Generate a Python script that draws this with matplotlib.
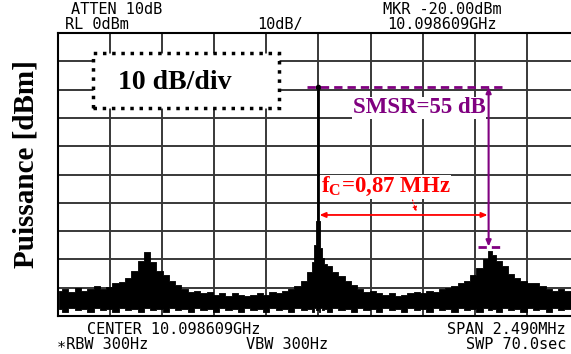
import matplotlib
matplotlib.use("Agg")
import matplotlib.pyplot as plt
from matplotlib.patches import Rectangle

plt.rcParams['mathtext.fontset'] = 'custom'
plt.rcParams['mathtext.rm'] = 'Liberation Serif'
plt.rcParams['mathtext.bf'] = 'Liberation Serif:bold'

# frequency offset from centre (MHz) and trace envelope (dBm)
freq = [-1.24, -1.21, -1.18, -1.15, -1.12, -1.09, -1.06, -1.03, -1.00, -0.97,
        -0.94, -0.91, -0.88, -0.85, -0.82, -0.79, -0.76, -0.73, -0.70, -0.67,
        -0.64, -0.61, -0.58, -0.55, -0.52, -0.49, -0.46, -0.43, -0.40, -0.37,
        -0.34, -0.31, -0.28, -0.25, -0.22, -0.19, -0.16, -0.13, -0.10, -0.07,
        -0.04, -0.025, -0.015, -0.005, 0.0, 0.005, 0.012, 0.02, 0.035, 0.05,
        0.08, 0.11, 0.14, 0.17, 0.20, 0.23, 0.26, 0.29, 0.32, 0.35,
        0.38, 0.41, 0.44, 0.47, 0.50, 0.53, 0.56, 0.59, 0.62, 0.65,
        0.68, 0.71, 0.74, 0.77, 0.80, 0.82, 0.84, 0.86, 0.89, 0.92,
        0.95, 0.98, 1.01, 1.04, 1.07, 1.10, 1.13, 1.16, 1.19, 1.22,
        1.25]
upper = [-91.0, -90.5, -91.5, -90.0, -91.0, -90.5, -89.5, -90.5, -89.8, -88.5,
         -88.0, -86.5, -84.0, -80.5, -77.5, -81.0, -84.0, -85.5, -87.5, -89.0,
         -90.5, -91.5, -91.0, -92.0, -91.5, -92.5, -92.0, -93.0, -92.0, -92.5,
         -93.0, -92.5, -92.0, -92.5, -91.5, -92.0, -91.0, -90.5, -89.5, -87.5,
         -84.5, -81.0, -75.0, -66.5, -66.5, -66.5, -76.0, -79.5, -81.5, -82.5,
         -84.5, -86.0, -87.5, -89.0, -90.5, -91.5, -91.0, -92.0, -92.5, -92.0,
         -93.0, -92.5, -92.0, -91.5, -92.0, -91.0, -91.5, -90.5, -90.0, -89.5,
         -88.5, -87.5, -85.5, -83.0, -80.0, -77.0, -78.5, -80.5, -82.5, -85.0,
         -86.5, -87.5, -88.5, -88.5, -89.5, -90.5, -91.0, -90.5, -91.0, -90.5,
         -91.0]
lower = [-97.5, -98.5, -97.0, -98.0, -97.5, -98.5, -97.0, -98.0, -97.5, -98.5,
         -97.0, -98.0, -97.5, -98.5, -97.0, -98.0, -97.5, -98.5, -97.0, -98.0,
         -97.5, -98.5, -97.0, -98.0, -97.5, -98.5, -97.0, -98.0, -97.5, -98.5,
         -97.0, -98.0, -97.5, -98.5, -97.0, -98.0, -97.5, -98.5, -97.0, -98.0,
         -97.5, -98.5, -97.0, -98.0, -97.5, -98.5, -97.0, -98.0, -97.5, -98.5,
         -97.0, -98.0, -97.5, -98.5, -97.0, -98.0, -97.5, -98.5, -97.0, -98.0,
         -97.5, -98.5, -97.0, -98.0, -97.5, -98.5, -97.0, -98.0, -97.5, -98.5,
         -97.0, -98.0, -97.5, -98.5, -97.0, -98.0, -97.5, -98.5, -97.0, -98.0,
         -97.5, -98.5, -97.0, -98.0, -97.5, -98.5, -97.0, -98.0, -97.5, -98.5,
         -97.0]

peak_freq = 0.0
peak_level = -19.0
pedestal_level = -66.5
side_freq = 0.813
side_level = -75.5

x_divs = [-1.245, -0.996, -0.747, -0.498, -0.249, 0.0, 0.249, 0.498, 0.747, 0.996, 1.245]
y_divs = [-100, -90, -80, -70, -60, -50, -40, -30, -20, -10, 0]

purple = '#800080'

fig = plt.figure(figsize=(5.71, 3.54), dpi=100)
ax = fig.add_axes([58 / 571, 1 - 316 / 354, 521 / 571, 283 / 354])
ax.set_xlim(x_divs[0], x_divs[-1])
ax.set_ylim(y_divs[0], y_divs[-1])
ax.set_xticks(x_divs)
ax.set_yticks(y_divs)
ax.tick_params(length=0, labelbottom=False, labelleft=False)
ax.grid(True, color='#383838', lw=1.4)
ax.set_axisbelow(True)
for s in ax.spines.values():
    s.set_color('black')
    s.set_linewidth(1.5)

# spectrum trace
ax.fill_between(freq, lower, upper, step='mid', color='black', lw=0.6, zorder=3)
ax.plot([peak_freq, peak_freq], [pedestal_level, peak_level], color='black', lw=2.0, zorder=4)
ax.plot([peak_freq], [peak_level], 'o', color='black', ms=3, zorder=5)

# 10 dB/div box
ax.add_patch(Rectangle((-1.08, -26.5), 0.89, 19.4, facecolor='white', edgecolor='black',
                       lw=2.5, ls=':', zorder=6))
ax.text(-0.688, -17.5, '10 dB/div', family='Liberation Serif', weight='bold', fontsize=20,
        ha='center', va='center', zorder=7)

# SMSR annotation
ax.plot([-0.053, 0.88], [peak_level, peak_level], color=purple, lw=2, dashes=(3, 1.8), zorder=6)
ax.plot([0.76, 0.875], [side_level, side_level], color=purple, lw=2, dashes=(3, 1.8), zorder=6)
ax.annotate('', xy=(side_freq, side_level), xytext=(side_freq, peak_level),
            arrowprops=dict(arrowstyle='<|-|>,head_length=0.35,head_width=0.15',
                            color=purple, lw=1.5, shrinkA=0, shrinkB=0), zorder=6)
ax.text(0.48, -26.5, 'SMSR=55 dB', family='Liberation Serif', weight='bold', fontsize=16.5,
        color=purple, ha='center', va='center', zorder=7,
        bbox=dict(facecolor='white', edgecolor='none', pad=0.5))

# fC annotation
ax.annotate('', xy=(side_freq - 0.005, -64.3), xytext=(0.005, -64.3),
            arrowprops=dict(arrowstyle='<|-|>,head_length=0.35,head_width=0.15',
                            color='red', lw=1.3, shrinkA=0, shrinkB=0), zorder=6)
ax.text(0.32, -54.4, r'f$_{\mathbf{C}}$=0,87 MHz', family='Liberation Serif', weight='bold',
        fontsize=16.5, color='red', ha='center', va='center', zorder=7,
        bbox=dict(facecolor='white', edgecolor='none', pad=0.5))
ax.annotate('', xy=(0.468, -63.3), xytext=(0.445, -58.0),
            arrowprops=dict(arrowstyle='-|>,head_length=0.3,head_width=0.12',
                            color='red', lw=0.8, ls=':', shrinkA=0, shrinkB=0), zorder=6)

# y label
fig.text(26 / 571, 1 - 164 / 354, 'Puissance [dBm]', family='Liberation Serif', weight='bold',
         fontsize=21, rotation=90, ha='center', va='center')

# analyser screen annotations
mono = dict(family=['DejaVu Sans Mono', 'DejaVu Sans'], fontsize=11, va='baseline')
fig.text(117 / 571, 1 - 14 / 354, 'ATTEN 10dB', ha='center', **mono)
fig.text(97 / 571, 1 - 29 / 354, 'RL 0dBm', ha='center', **mono)
fig.text(280 / 571, 1 - 29 / 354, '10dB/', ha='center', **mono)
fig.text(442 / 571, 1 - 14 / 354, 'MKR -20.00dBm', ha='center', **mono)
fig.text(442 / 571, 1 - 29 / 354, '10.098609GHz', ha='center', **mono)
fig.text(174 / 571, 1 - 334 / 354, 'CENTER 10.098609GHz', ha='center', **mono)
fig.text(103 / 571, 1 - 349 / 354, '\u2217RBW 300Hz', ha='center', **mono)
fig.text(287 / 571, 1 - 349 / 354, 'VBW 300Hz', ha='center', **mono)
fig.text(566 / 571, 1 - 334 / 354, 'SPAN 2.490MHz', ha='right', **mono)
fig.text(566 / 571, 1 - 349 / 354, 'SWP 70.0sec', ha='right', **mono)

fig.savefig('out.png', dpi=100)
